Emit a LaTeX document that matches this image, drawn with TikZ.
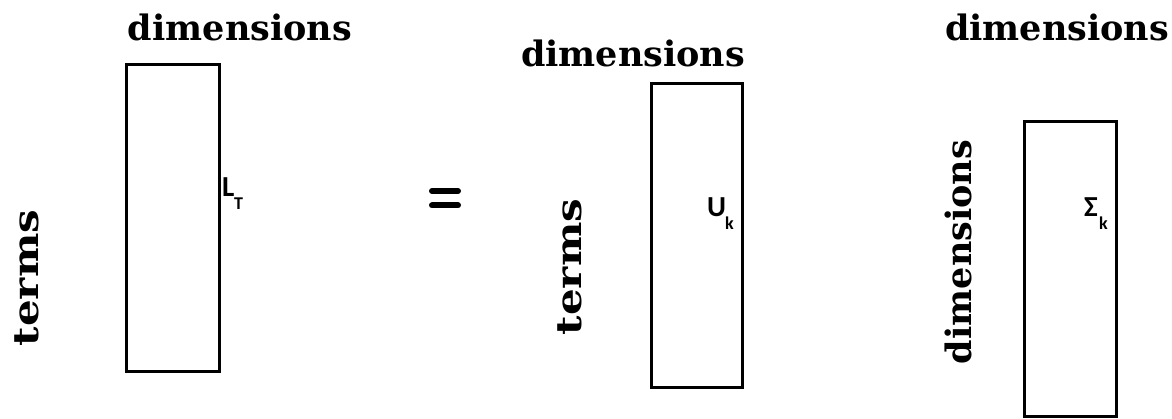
\documentclass[tikz,border=0pt]{standalone}
\usepackage{fontspec}
\setmainfont{DejaVu Serif}
\newfontfamily\lblfont{Carlito}
\begin{document}
\begin{tikzpicture}[x=1pt,y=-1pt,
  mat/.style={draw,line width=3pt},
  hd/.style={font=\fontsize{35}{38}\selectfont\bfseries, inner sep=0pt},
  lbl/.style={font=\lblfont\fontsize{29}{30}\selectfont\bfseries, inner sep=0pt, anchor=base west},
  sub/.style={font=\lblfont\fontsize{18}{19}\selectfont\bfseries, inner sep=0pt, anchor=base west}]
\useasboundingbox (0,0) rectangle (1172,419);
\draw[mat] (126,65) rectangle (219,371);
\draw[mat] (651,84) rectangle (742,387);
\draw[mat] (1024,122) rectangle (1116,416);
\node[hd] (d1) at (240,27) {dimensions};
\node[hd] (d2) at (633,53) {dimensions};
\node[hd] (d3) at (1057,27) {dimensions};
\node[hd, rotate=90] (t1) at (27,278) {\scalebox{1.2}[1]{terms}};
\node[hd, rotate=90] (t2) at (570,267) {\scalebox{1.2}[1]{terms}};
\node[hd, rotate=90] (d4) at (958,252) {dimensions};
\node[lbl] (L) at (222,197) {L};
\node[sub] (Ls) at (234,210) {T};
\node[lbl] (U) at (707,217) {U};
\node[sub] (Us) at (725,230) {k};
\node[lbl] (S) at (1084,217) {Σ};
\node[sub] (Ss) at (1099,230) {k};
\draw[line width=6pt, line cap=round] (432,191) -- (458,191);
\draw[line width=6pt, line cap=round] (432,205.5) -- (458,205.5);
\end{tikzpicture}
\end{document}
